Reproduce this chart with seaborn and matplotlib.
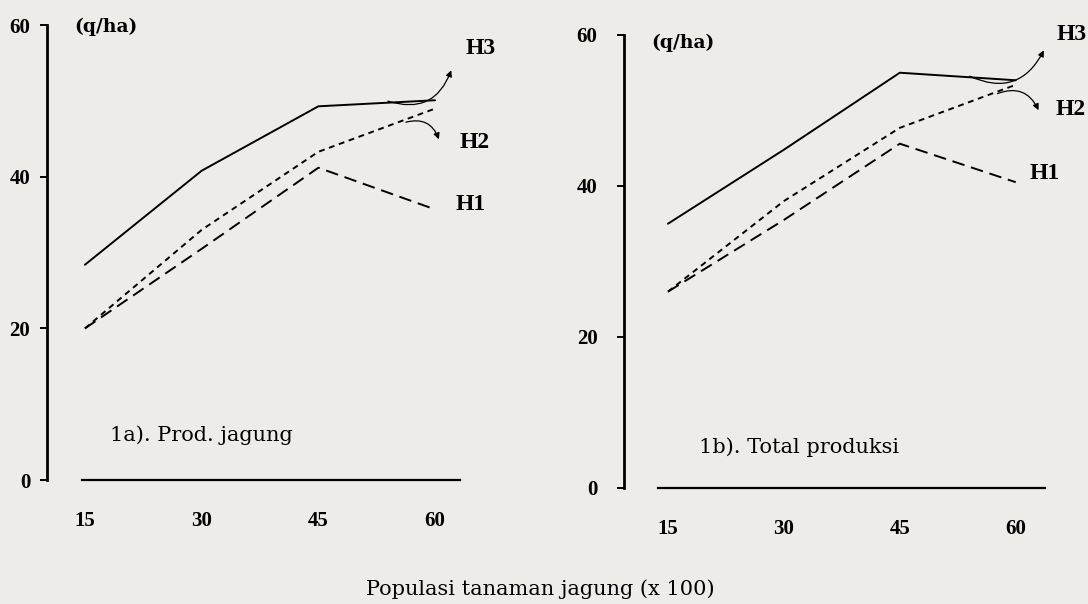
import matplotlib
matplotlib.use("Agg")
import matplotlib.pyplot as plt
import numpy as np
import pandas as pd
import seaborn as sns

# ---------------- data ----------------
populasi = [15, 30, 45, 60]
hybrids = ["H1", "H2", "H3"]
prod_jagung_H1 = [20.0, 30.5, 41.2, 35.7]
prod_jagung_H2 = [20.0, 33.0, 43.3, 49.0]
prod_jagung_H3 = [28.4, 40.8, 49.3, 50.1]
total_produksi_H1 = [26.0, 35.5, 45.6, 40.5]
total_produksi_H2 = [26.0, 38.0, 47.7, 53.4]
total_produksi_H3 = [35.0, 44.8, 55.0, 54.0]
y_ticks = [0, 20, 40, 60]
x_ticks = [15, 30, 45, 60]
panel_titles = ["1a). Prod. jagung", "1b). Total produksi"]
unit_label = "(q/ha)"
x_label = "Populasi tanaman jagung (x 100)"

def long_df(h1, h2, h3):
    rows = []
    for name, vals in zip(hybrids, [h1, h2, h3]):
        for x, v in zip(populasi, vals):
            rows.append({"populasi": x, "hasil": v, "hibrida": name})
    return pd.DataFrame(rows)

df_a = long_df(prod_jagung_H1, prod_jagung_H2, prod_jagung_H3)
df_b = long_df(total_produksi_H1, total_produksi_H2, total_produksi_H3)

sns.set_theme(style="white")
paper = "#edece8"
plt.rcParams["font.family"] = ["Liberation Serif", "DejaVu Serif"]
plt.rcParams["text.color"] = "black"
plt.rcParams["axes.labelcolor"] = "black"
plt.rcParams["xtick.color"] = "black"
plt.rcParams["ytick.color"] = "black"
wide_serif = ["DejaVu Serif"]

fig = plt.figure(figsize=(10.88, 6.04), dpi=100, facecolor=paper)

ax_a = fig.add_axes([0.0280, 0.1801, 0.4148, 0.8033])
ax_b = fig.add_axes([0.5642, 0.1671, 0.4120, 0.8000])

dashes = {"H3": "", "H2": (3.0, 2.4), "H1": (6.5, 3.5)}

configs = [
    dict(ax=ax_a, df=df_a, yspine=10.1, xb=(14.6, 63.2), ypad=7,
         unit=(13.6, 59.8), title=(18.2, 5.9),
         labels={"H3": (63.9, 56.9), "H2": (63.1, 44.5), "H1": (62.6, 36.3)},
         arrows=[((53.6, 50.1), (62.2, 54.4), 0.5), ((55.9, 47.1), (60.6, 44.6), -0.5)]),
    dict(ax=ax_b, df=df_b, yspine=9.3, xb=(13.7, 63.8), ypad=14,
         unit=(12.8, 58.9), title=(19.0, 5.4),
         labels={"H3": (65.3, 60.0), "H2": (65.1, 50.1), "H1": (61.8, 41.7)},
         arrows=[((53.7, 54.7), (63.8, 58.3), 0.5), ((57.3, 52.1), (63.1, 49.7), -0.5)]),
]

for i, c in enumerate(configs):
    ax = c["ax"]
    ax.patch.set_alpha(0)
    sns.lineplot(data=c["df"], x="populasi", y="hasil", style="hibrida",
                 style_order=["H3", "H2", "H1"], dashes=dashes, color="black",
                 linewidth=1.4, legend=False, ax=ax)
    ax.set_xlim(8, 66)
    ax.set_ylim(-2, 62)
    ax.set_xticks(x_ticks)
    ax.set_yticks(y_ticks)
    ax.set_xlabel("")
    ax.set_ylabel("")
    for s in ["top", "right"]:
        ax.spines[s].set_visible(False)
    ax.spines["left"].set_position(("data", c["yspine"]))
    ax.spines["left"].set_bounds(0, 60)
    ax.spines["left"].set_linewidth(2.0)
    ax.spines["left"].set_color("black")
    ax.spines["bottom"].set_position(("data", 0))
    ax.spines["bottom"].set_bounds(*c["xb"])
    ax.spines["bottom"].set_linewidth(1.6)
    ax.spines["bottom"].set_color("black")
    ax.tick_params(axis="y", direction="out", length=5, width=1.4, color="black",
                   pad=c["ypad"], labelcolor="black", labelsize=15, left=True)
    ax.tick_params(axis="x", length=0, pad=22, labelcolor="black", labelsize=15)
    ax.set_xticklabels([str(t) for t in x_ticks])
    ax.set_yticklabels([str(t) for t in y_ticks])
    for lab in ax.get_xticklabels() + ax.get_yticklabels():
        lab.set_fontweight("bold")
        lab.set_fontsize(15)
        lab.set_color("black")
    ax.text(*c["unit"], unit_label, fontsize=13.5, fontweight="bold", ha="left",
            va="center", family=wide_serif)
    ax.text(*c["title"], panel_titles[i], fontsize=15, ha="left", va="center",
            color="black", family=wide_serif)
    for h, pos in c["labels"].items():
        ax.text(*pos, h, fontsize=17, fontweight="bold", ha="left", va="center")
    for tail, head, rad in c["arrows"]:
        ax.annotate("", xy=head, xytext=tail,
                    arrowprops=dict(arrowstyle="-|>", color="black", lw=0.9,
                                    mutation_scale=9,
                                    connectionstyle=f"arc3,rad={rad}"))

fig.text(540 / 1088, 1 - 589 / 604, x_label, fontsize=15, ha="center", va="center",
         color="black", family=wide_serif)

fig.savefig("out.png", dpi=100, facecolor=paper)
